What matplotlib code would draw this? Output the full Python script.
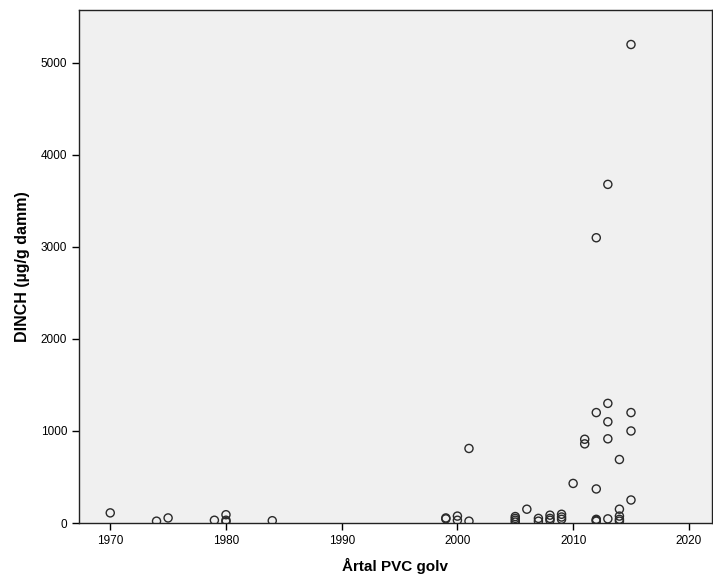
import matplotlib
matplotlib.use("Agg")
import matplotlib.pyplot as plt

years = [1970, 1974, 1975, 1979, 1980, 1980, 1980, 1984,
         1999, 1999, 2000, 2000, 2001, 2001,
         2005, 2005, 2005, 2005, 2006, 2007, 2007,
         2008, 2008, 2008, 2009, 2009, 2009, 2010,
         2011, 2011, 2012, 2012, 2012, 2012, 2012, 2012,
         2013, 2013, 2013, 2013, 2013,
         2014, 2014, 2014, 2014, 2014,
         2015, 2015, 2015, 2015]
dinch = [110, 20, 55, 30, 90, 30, 15, 25,
         55, 45, 75, 30, 810, 20,
         70, 50, 30, 10, 150, 50, 20,
         85, 50, 30, 95, 65, 40, 430,
         910, 860, 3100, 1200, 370, 40, 30, 20,
         3680, 1300, 1100, 915, 45,
         690, 150, 75, 40, 20,
         5200, 1200, 1000, 250]

xticks = [1970, 1980, 1990, 2000, 2010, 2020]
yticks = [0, 1000, 2000, 3000, 4000, 5000]

plt.rcParams['font.family'] = ['Liberation Sans', 'DejaVu Sans']

fig = plt.figure(figsize=(7.13, 5.76), dpi=100)
ax = fig.add_axes([79/713, 1 - 523/576, (712 - 79)/713, (523 - 10)/576])
ax.set_facecolor('#f0f0f0')

ax.scatter(years, dinch, s=34, facecolors='none', edgecolors='#2a2a2a', linewidths=1.0, zorder=3)

ax.set_xlim(1967.3, 2022.0)
ax.set_ylim(0, 5575)
ax.set_xticks(xticks)
ax.set_yticks(yticks)
ax.tick_params(axis='both', direction='out', length=5, width=1, labelsize=8.5, colors='black')
for s in ax.spines.values():
    s.set_linewidth(1.0)
    s.set_color('#222222')

ax.set_xlabel('Årtal PVC golv', fontsize=11, fontweight='bold', labelpad=8)
ax.set_ylabel('DINCH (µg/g damm)', fontsize=11.5, fontweight='bold', labelpad=8)

fig.savefig('out.png', dpi=100, facecolor='white')
